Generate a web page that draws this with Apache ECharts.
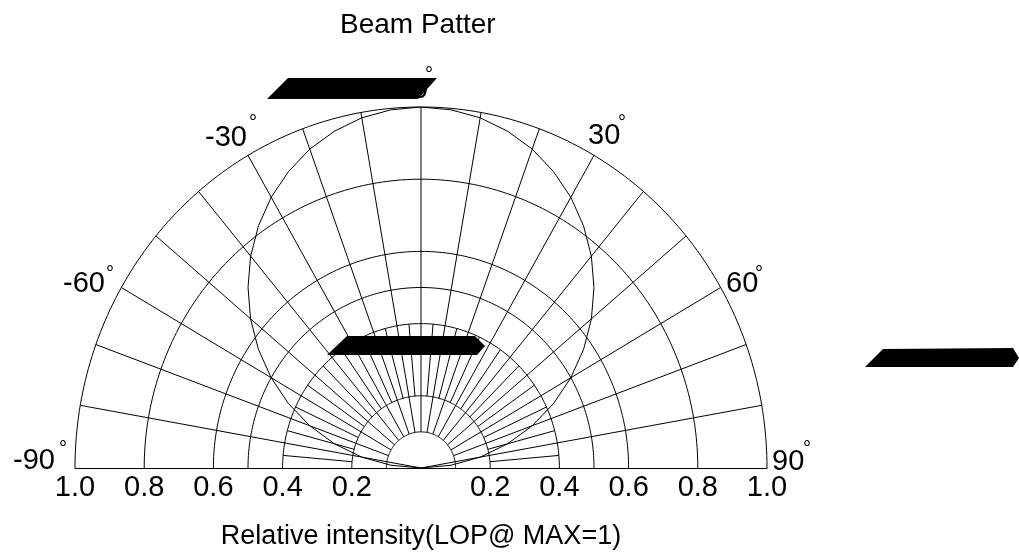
<!DOCTYPE html>
<html>
<head>
<meta charset="utf-8">
<title>Beam Patter</title>
<script src="https://cdn.jsdelivr.net/npm/echarts@6/dist/echarts.min.js"></script>
<style>
html, body { margin: 0; padding: 0; background: #fff; }
#chart { width: 1019px; height: 556px; }
</style>
</head>
<body>
<div id="chart"></div>
<script>
// beam pattern (angle in degrees, relative intensity)
var beamAngles = [-90, -85, -80, -75, -70, -65, -60, -55, -50, -45, -40, -35, -30, -25, -20, -15, -10, -5, 0,
  5, 10, 15, 20, 25, 30, 35, 40, 45, 50, 55, 60, 65, 70, 75, 80, 85, 90];
var beamIntensity = [0, 0.087, 0.174, 0.259, 0.342, 0.423, 0.5, 0.574, 0.643, 0.707, 0.766, 0.819, 0.866, 0.906, 0.94, 0.966, 0.985, 0.996, 1.0,
  0.996, 0.985, 0.966, 0.94, 0.906, 0.866, 0.819, 0.766, 0.707, 0.643, 0.574, 0.5, 0.423, 0.342, 0.259, 0.174, 0.087, 0];

// polar paper grid
var gridRadii = [0.1, 0.2, 0.4, 0.5, 0.6, 0.8, 1.0];
var majorRays = [-70, -60, -50, -40, -30, -20, -10, 0, 10, 20, 30, 40, 50, 60, 70];
var edgeRays = [-80, 80];
var minorRays = [-85, -75, -65, -55, -45, -35, -25, -15, -5, 5, 15, 25, 35, 45, 55, 65, 75, 85];
var tickValues = [-1.0, -0.8, -0.6, -0.4, -0.2, 0, 0.2, 0.4, 0.6, 0.8, 1.0];
var angleLabels = ['-90', '-60', '-30', '0', '30', '60', '90'];

var FONT = '"Liberation Sans", Arial, sans-serif';
var rad = Math.PI / 180;

function polarPoint(api, r, deg) {
  return api.coord([r * Math.sin(deg * rad), r * Math.cos(deg * rad)]);
}

// [angle, inner radius, outer radius]
var rayData = [];
majorRays.forEach(function (a) { rayData.push([a, 0.1, 1.0]); });
edgeRays.forEach(function (a) { rayData.push([a, 0, 1.0]); });
minorRays.forEach(function (a) { rayData.push([a, 0.2, 0.4]); });

var curveData = beamAngles.map(function (a, i) {
  var r = beamIntensity[i];
  return [r * Math.sin(a * rad), r * Math.cos(a * rad)];
});

// angle label placement (text centre) and degree ring centre
var labelLayout = {
  '-90': { x: 55, y: 461, align: 'right', dx: 63, dy: 445 },
  '-60': { x: 105, y: 284, align: 'right', dx: 110, dy: 270 },
  '-30': { x: 247, y: 138, align: 'right', dx: 253, dy: 119 },
  '0': { x: 420, y: 90, align: 'center', dx: 429, dy: 71 },
  '30': { x: 588, y: 136, align: 'left', dx: 622, dy: 119 },
  '60': { x: 726, y: 284, align: 'left', dx: 759, dy: 270 },
  '90': { x: 772, y: 462, align: 'left', dx: 807, dy: 445 }
};

var graphics = [];
angleLabels.forEach(function (t) {
  var p = labelLayout[t];
  graphics.push({
    type: 'text', x: p.x, y: p.y, z: 10,
    style: { text: t, font: '29px ' + FONT, fill: '#000', textAlign: p.align, textVerticalAlign: 'middle' }
  });
  graphics.push({
    type: 'text', x: p.dx, y: p.dy + 4, z: 10,
    style: { text: '°', font: '20px ' + FONT, fill: '#000', textAlign: 'center', textVerticalAlign: 'middle' }
  });
});

// black blots on the scanned sheet
graphics.push({ type: 'polygon', z: 50, shape: { points: [[267, 99], [288, 78], [437, 78], [418, 99]] }, style: { fill: '#000' } });
graphics.push({ type: 'polygon', z: 50, shape: { points: [[327, 355], [347, 336], [475, 336], [485, 346], [477, 355]] }, style: { fill: '#000' } });
graphics.push({ type: 'polygon', z: 50, shape: { points: [[865, 367], [883, 349], [1013, 348], [1019, 358], [1013, 367]] }, style: { fill: '#000' } });

var chart = echarts.init(document.getElementById('chart'));
chart.setOption({
  backgroundColor: '#fff',
  animation: false,
  title: {
    text: 'Beam Patter',
    left: 335,
    top: 6,
    textStyle: { fontFamily: FONT, fontSize: 28, fontWeight: 'normal', color: '#000', lineHeight: 28 }
  },
  grid: { left: 75, right: 252, top: 107, bottom: 84 },
  xAxis: {
    type: 'value', min: -1, max: 1, interval: 0.2,
    name: 'Relative intensity(LOP@ MAX=1)',
    nameLocation: 'middle',
    nameGap: 55,
    nameTextStyle: { fontFamily: FONT, fontSize: 27, color: '#000', lineHeight: 28 },
    axisLine: { lineStyle: { color: '#000', width: 1 } },
    axisTick: { show: false },
    splitLine: { show: false },
    axisLabel: {
      margin: 5,
      fontFamily: FONT, fontSize: 29, color: '#000', lineHeight: 29,
      formatter: function (v) {
        if (Math.abs(v) < 1e-9) return '';
        return Math.abs(v).toFixed(1);
      }
    }
  },
  yAxis: { type: 'value', min: 0, max: 1, show: false },
  graphic: graphics,
  series: [
    {
      type: 'custom',
      name: 'arcs',
      silent: true,
      clip: false,
      data: gridRadii.map(function (r) { return [r, 0]; }),
      renderItem: function (params, api) {
        var r = gridRadii[params.dataIndex];
        var pts = [];
        for (var a = -90; a <= 90; a += 1) pts.push(polarPoint(api, r, a));
        return { type: 'polyline', shape: { points: pts }, style: { fill: null, stroke: '#000', lineWidth: 1 } };
      }
    },
    {
      type: 'custom',
      name: 'rays',
      silent: true,
      clip: false,
      data: rayData,
      renderItem: function (params, api) {
        var d = rayData[params.dataIndex];
        var p0 = polarPoint(api, d[1], d[0]);
        var p1 = polarPoint(api, d[2], d[0]);
        return { type: 'line', shape: { x1: p0[0], y1: p0[1], x2: p1[0], y2: p1[1] }, style: { stroke: '#000', lineWidth: 1 } };
      }
    },
    {
      type: 'line',
      name: 'Beam pattern',
      data: curveData,
      smooth: false,
      showSymbol: false,
      lineStyle: { color: '#000', width: 1 }
    }
  ]
});
</script>
</body>
</html>
